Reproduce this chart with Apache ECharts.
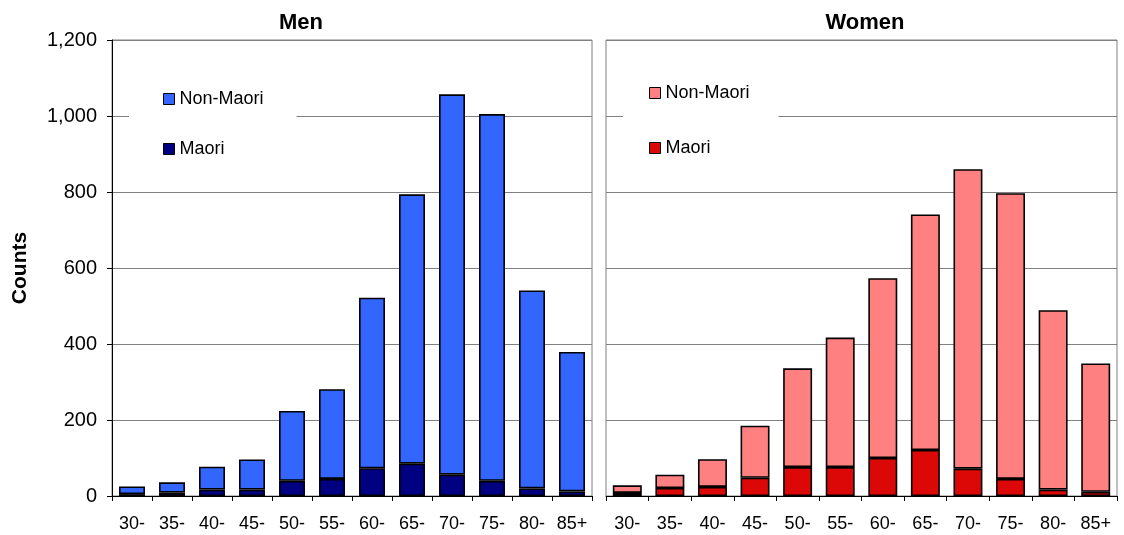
<!DOCTYPE html>
<html>
<head>
<meta charset="utf-8">
<script src="https://cdn.jsdelivr.net/npm/echarts@6/dist/echarts.min.js"></script>
<style>
html,body{margin:0;padding:0;background:#fff;}
#chart{width:1124px;height:535px;}
</style>
</head>
<body>
<div id="chart"></div>
<script>
// ---- data ----
const categories = ['30-','35-','40-','45-','50-','55-','60-','65-','70-','75-','80-','85+'];
const menMaori     = [5, 9, 17, 17, 40, 45, 73, 85, 56, 40, 20, 12];
const menNonMaori  = [20, 27, 60, 79, 184, 236, 449, 709, 1001, 965, 521, 367];
const womenMaori    = [8, 21, 24, 48, 76, 76, 100, 121, 72, 45, 17, 11];
const womenNonMaori = [20, 35, 73, 137, 260, 341, 473, 620, 788, 752, 472, 338];
const yTicks = [0, 200, 400, 600, 800, 1000, 1200];

const FONT = "'Liberation Sans', Arial, Helvetica, sans-serif";
const fmt = v => String(v).replace(/\B(?=(\d{3})+(?!\d))/g, ',');
const chart = echarts.init(document.getElementById('chart'), null, {renderer: 'canvas'});

const gridLine = {show: true, lineStyle: {color: '#808080', width: 1}};
const xAxisBase = (idx) => ({
  type: 'category', gridIndex: idx, data: categories,
  axisLine: {show: true, lineStyle: {color: '#000', width: 1}},
  axisTick: {show: true, length: 5, lineStyle: {color: '#000'}},
  axisLabel: {interval: 0, color: '#000', fontSize: 18, fontFamily: FONT, margin: 19}
});
const barBorder = {borderColor: '#000', borderWidth: 1.6};

chart.setOption({
  animation: false,
  backgroundColor: '#fff',
  textStyle: {fontFamily: FONT},
  title: [
    {text: 'Men', left: 296, top: 7, textAlign: 'center',
     textStyle: {fontSize: 22, fontWeight: 'bold', color: '#000', fontFamily: FONT}},
    {text: 'Women', left: 860, top: 7, textAlign: 'center',
     textStyle: {fontSize: 22, fontWeight: 'bold', color: '#000', fontFamily: FONT}}
  ],
  grid: [
    {left: 112, right: 532, top: 40, bottom: 39, show: true, borderColor: '#808080', borderWidth: 1, backgroundColor: 'transparent'},
    {left: 606, right: 7, top: 40, bottom: 39, show: true, borderColor: '#808080', borderWidth: 1, backgroundColor: 'transparent'}
  ],
  legend: [
    {data: ['Non-Maori', 'Maori'], orient: 'vertical', left: 129, top: 79,
     padding: [10, 33, 10, 34], itemGap: 30, itemWidth: 11, itemHeight: 11,
     backgroundColor: '#fff', selectedMode: false, icon: 'rect',
     itemStyle: {borderColor: '#000', borderWidth: 1},
     textStyle: {fontSize: 18, color: '#000', fontFamily: FONT, lineHeight: 20}},
    {data: ['W-Non-Maori', 'W-Maori'], orient: 'vertical', left: 623, top: 73,
     padding: [10, 29, 10, 26], itemGap: 35, itemWidth: 11, itemHeight: 11,
     backgroundColor: '#fff', selectedMode: false, icon: 'rect',
     formatter: n => n.replace('W-', ''),
     itemStyle: {borderColor: '#000', borderWidth: 1},
     textStyle: {fontSize: 18, color: '#000', fontFamily: FONT, lineHeight: 20}}
  ],
  xAxis: [xAxisBase(0), xAxisBase(1)],
  yAxis: [
    {type: 'value', gridIndex: 0, min: yTicks[0], max: yTicks[yTicks.length - 1], interval: 200,
     name: 'Counts', nameLocation: 'middle', nameRotate: 90, nameGap: 81,
     nameTextStyle: {fontSize: 21, fontWeight: 'bold', color: '#000', fontFamily: FONT},
     axisLine: {show: true, lineStyle: {color: '#000', width: 1}},
     axisTick: {show: true, length: 5, lineStyle: {color: '#000'}},
     axisLabel: {color: '#000', fontSize: 20, fontFamily: FONT, margin: 15, formatter: fmt},
     splitLine: gridLine},
    {type: 'value', gridIndex: 1, min: yTicks[0], max: yTicks[yTicks.length - 1], interval: 200,
     axisLine: {show: false}, axisTick: {show: false}, axisLabel: {show: false},
     splitLine: gridLine}
  ],
  series: [
    {name: 'Maori', type: 'bar', stack: 'men', xAxisIndex: 0, yAxisIndex: 0, barWidth: '65%',
     data: menMaori, itemStyle: Object.assign({color: '#000080'}, barBorder)},
    {name: 'Non-Maori', type: 'bar', stack: 'men', xAxisIndex: 0, yAxisIndex: 0, barWidth: '65%',
     data: menNonMaori, itemStyle: Object.assign({color: '#3366FF'}, barBorder)},
    {name: 'W-Maori', type: 'bar', stack: 'women', xAxisIndex: 1, yAxisIndex: 1, barWidth: '68%',
     data: womenMaori, itemStyle: Object.assign({color: '#DC0808'}, barBorder)},
    {name: 'W-Non-Maori', type: 'bar', stack: 'women', xAxisIndex: 1, yAxisIndex: 1, barWidth: '68%',
     data: womenNonMaori, itemStyle: Object.assign({color: '#FF8080'}, barBorder)}
  ]
});
</script>
</body>
</html>
